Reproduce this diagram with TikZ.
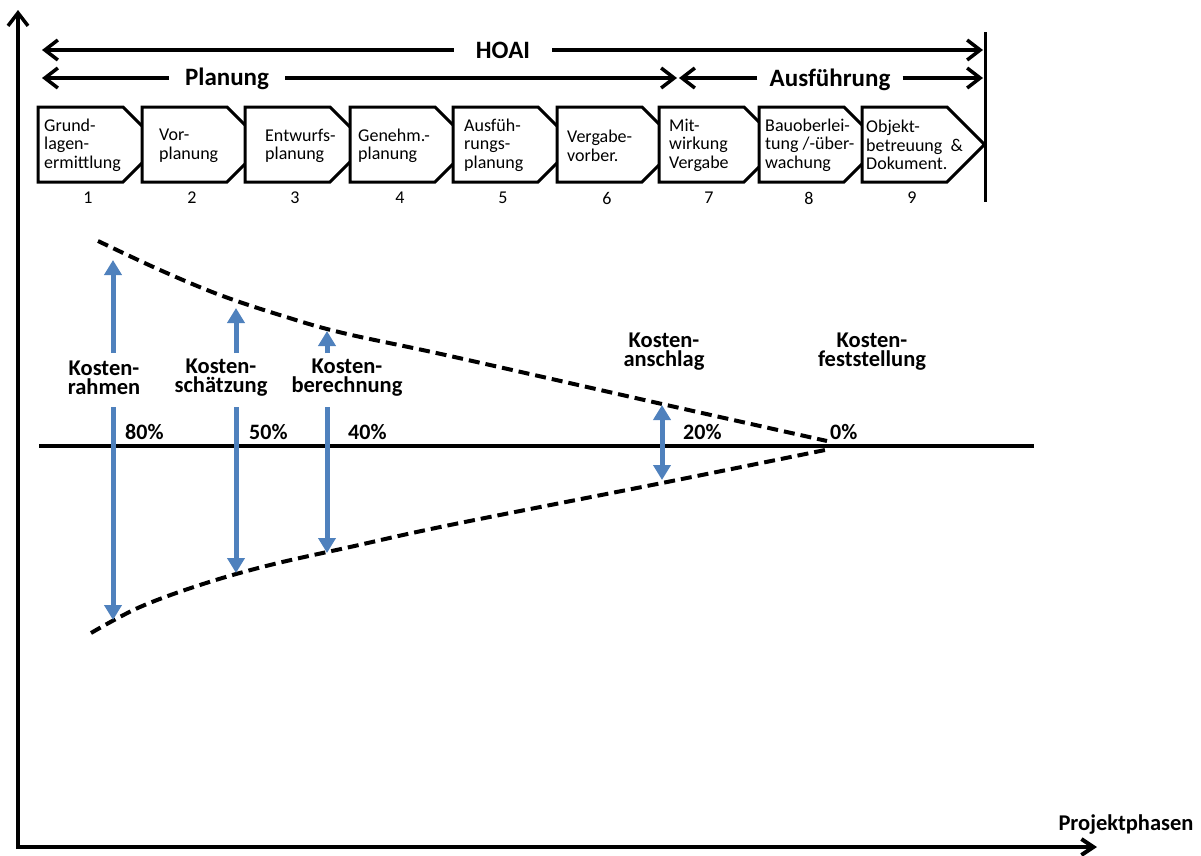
\documentclass[tikz,border=0pt]{standalone}
\usepackage{fontspec}
\setmainfont{Carlito}
\usetikzlibrary{arrows.meta}
\definecolor{kblue}{RGB}{79,129,189}
\begin{document}
\begin{tikzpicture}[x=1pt,y=-1pt,
  blk/.style={line width=3.5pt},
  barb/.style={-{Straight Barb[length=13pt,width=20pt]}},
  xbarb/.style={-{Straight Barb[length=12pt,width=16pt]}},
  phasebox/.style={draw=black,line width=3pt,fill=white,line join=miter},
  boxtxt/.style={inner sep=0pt,anchor=west,align=left,font=\fontsize{18}{18.5}\selectfont},
  numtxt/.style={inner sep=0pt,font=\fontsize{18}{18}\selectfont},
  head/.style={inner ysep=0pt,anchor=base,font=\fontsize{25}{25}\selectfont\bfseries},
  klabel/.style={inner sep=0pt,align=center,font=\fontsize{22.5}{19}\selectfont\bfseries},
  pct/.style={inner sep=0pt,anchor=west,font=\fontsize{22}{22}\selectfont\bfseries},
  costarrow/.style={draw=kblue,line width=5pt,-{Triangle[length=15pt,width=17pt]}},
  costboth/.style={draw=kblue,line width=5pt,{Triangle[length=15pt,width=17pt]}-{Triangle[length=15pt,width=17pt]}},
  cone/.style={dash pattern=on 11pt off 6pt,line width=4pt},
]
\useasboundingbox (0,0) rectangle (1201,855);

% axes
\coordinate (yB) at (18,849);
\coordinate (yT) at (18,10);
\coordinate (xL) at (16,847);
\coordinate (xR) at (1097,847);
\draw[blk,barb] (yB) -- (yT);
\draw[line width=4pt,xbarb] (xL) -- (xR);
\node[inner sep=0pt,font=\fontsize{22.5}{22}\selectfont\bfseries] (proj) at (1126,824) {Projektphasen};

% HOAI / Planung / Ausfuehrung
\node[head,inner xsep=22pt] (hoai) at (503,58) {HOAI};
\coordinate (hL) at (42,50);
\coordinate (hR) at (983,50);
\draw[blk,barb] (hoai.west |- hL) -- (hL);
\draw[blk,barb] (hoai.east |- hR) -- (hR);

\node[head,inner xsep=16pt] (plan) at (227,85) {Planung};
\coordinate (pL) at (42,78);
\coordinate (pR) at (677,78);
\draw[blk,barb] (plan.west |- pL) -- (pL);
\draw[blk,barb] (plan.east |- pR) -- (pR);

\node[head,inner xsep=12pt] (ausf) at (830,86) {Ausführung};
\coordinate (aL) at (679,78);
\coordinate (aR) at (983,78);
\draw[blk,barb] (ausf.west |- aL) -- (aL);
\draw[blk,barb] (ausf.east |- aR) -- (aR);

\coordinate (vT) at (985,32);
\coordinate (vB) at (985,202);
\draw[line width=3pt] (vT) -- (vB);

% phase boxes
\foreach \L/\n in {38/1,142/2,245/3,350/4,453/5,557/6,659/7,759/8,862/9}{
  \draw[phasebox] (\L,107) -- ++(85,0) -- ++(37.5,37.5) -- ++(-37.5,37.5) -- ++(-85,0) -- cycle;
  \node[numtxt] (n\n) at (\L+50,198) {\n};
}
\node[boxtxt] (t1) at (44,145) {Grund-\\lagen-\\ermittlung};
\node[boxtxt] (t2) at (159,146) {Vor-\\planung};
\node[boxtxt] (t3) at (265,146) {Entwurfs-\\planung};
\node[boxtxt] (t4) at (358,146) {Genehm.-\\planung};
\node[boxtxt] (t5) at (464,145) {Ausfüh-\\rungs-\\planung};
\node[boxtxt] (t6) at (567,146) {Vergabe-\\vorber.};
\node[boxtxt] (t7) at (669,145) {Mit-\\wirkung\\Vergabe};
\node[boxtxt] (t8) at (765,145) {Bauoberlei-\\tung /-über-\\wachung};
\node[boxtxt] (t9) at (866,145) {Objekt-\\betreuung\ \ \&\\Dokument.};

% middle line
\coordinate (mL) at (39,446);
\coordinate (mR) at (1034,446);
\draw[line width=4pt] (mL) -- (mR);

% cone
\draw[cone] plot[smooth,tension=0.6] coordinates {(98,241) (160,270) (220,295) (283,316) (343,333) (450,356) (662,404) (827,441)};
\draw[cone] plot[smooth,tension=0.6] coordinates {(91,633) (140,607) (203,584) (270,565) (350,547) (450,525) (662,483) (830,449)};

% cost labels
\node[klabel] (k1) at (104,378) {Kosten-\\rahmen};
\node[klabel] (k2) at (221,378) {Kosten-\\schätzung};
\node[klabel] (k3) at (347,378) {Kosten-\\berechnung};
\node[klabel] (k4) at (664,352) {Kosten-\\anschlag};
\node[klabel] (k5) at (872,352) {Kosten-\\feststellung};

% cost arrows
\coordinate (a1u) at (113,353); \coordinate (a1t) at (113,260);
\coordinate (a1d) at (113,407); \coordinate (a1b) at (113,620);
\coordinate (a2u) at (236,353); \coordinate (a2t) at (236,308);
\coordinate (a2d) at (236,407); \coordinate (a2b) at (236,573);
\coordinate (a3u) at (327,353); \coordinate (a3t) at (327,331);
\coordinate (a3d) at (327,407); \coordinate (a3b) at (327,553);
\coordinate (a4t) at (662,405); \coordinate (a4b) at (662,480);
\draw[costarrow] (a1u) -- (a1t);
\draw[costarrow] (a1d) -- (a1b);
\draw[costarrow] (a2u) -- (a2t);
\draw[costarrow] (a2d) -- (a2b);
\draw[costarrow] (a3u) -- (a3t);
\draw[costarrow] (a3d) -- (a3b);
\draw[costboth] (a4t) -- (a4b);

% percentages
\node[pct] (p80) at (125,432) {80\%};
\node[pct] (p50) at (249,432) {50\%};
\node[pct] (p40) at (348,432) {40\%};
\node[pct] (p20) at (683,432) {20\%};
\node[pct] (p0) at (830,432) {0\%};
\end{tikzpicture}
\end{document}
